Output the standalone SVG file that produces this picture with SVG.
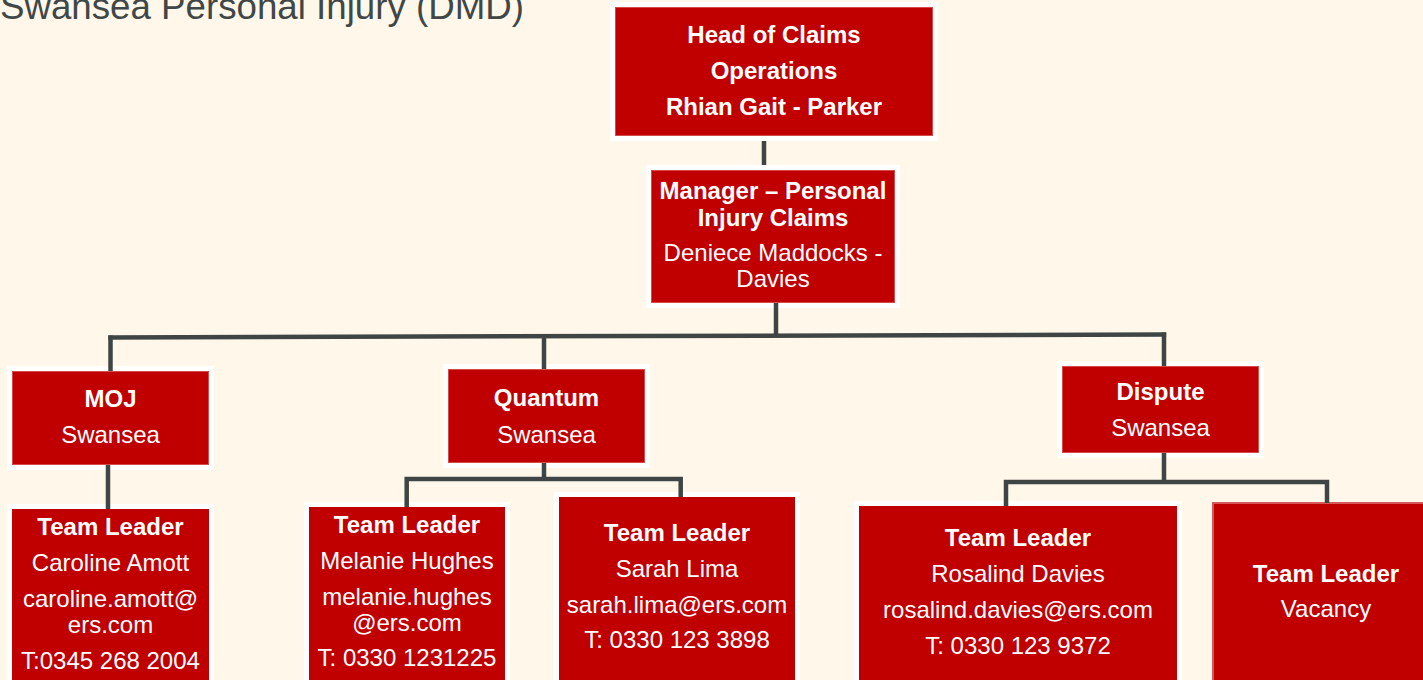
<svg xmlns="http://www.w3.org/2000/svg" width="1423" height="680" viewBox="0 0 1423 680">
<style>
.bg{fill:#fff8ea}
.box{fill:#c00000;stroke:#ffffff;stroke-width:10;paint-order:stroke}
.edge{fill:none;stroke:#d64a4a;stroke-width:1}
.vac{fill:#c00000;stroke:#d35a5a;stroke-width:2}
.b{font-family:"Liberation Sans",Arial,sans-serif;font-weight:bold;font-size:24px;fill:#ffffff;text-anchor:middle}
.r{font-family:"Liberation Sans",Arial,sans-serif;font-size:24px;fill:#ffffff;text-anchor:middle}
.title{font-family:"Liberation Sans",Arial,sans-serif;font-size:36.7px;fill:#414747}
.con{fill:none;stroke:#3f4545;stroke-width:4.5;stroke-linejoin:miter;stroke-linecap:butt}
</style>
<rect class="bg" x="0" y="0" width="1423" height="680"/>
<text class="title" x="0" y="19">Swansea Personal Injury (DMD)</text>

<g id="head">
<rect class="box" x="615" y="7" width="318" height="129"/>
<rect class="edge" x="615.5" y="7.5" width="317" height="128"/>
<text class="b" x="774" y="43">Head of Claims</text>
<text class="b" x="774" y="79">Operations</text>
<text class="b" x="774" y="115">Rhian Gait - Parker</text>
</g>

<g id="manager">
<rect class="box" x="651" y="170" width="244" height="133"/>
<rect class="edge" x="651.5" y="170.5" width="243" height="132"/>
<text class="b" x="773" y="199">Manager – Personal</text>
<text class="b" x="773" y="226">Injury Claims</text>
<text class="r" x="773" y="261">Deniece Maddocks -</text>
<text class="r" x="773" y="287">Davies</text>
</g>

<g id="moj">
<rect class="box" x="12" y="371" width="197" height="94"/>
<rect class="edge" x="12.5" y="371.5" width="196" height="93"/>
<text class="b" x="110.5" y="407">MOJ</text>
<text class="r" x="110.5" y="443">Swansea</text>
</g>

<g id="moj-tl">
<rect class="box" x="12" y="509" width="197" height="185"/>
<text class="b" x="110.5" y="535">Team Leader</text>
<text class="r" x="110.5" y="571">Caroline Amott</text>
<text class="r" x="110.5" y="607">caroline.amott@</text>
<text class="r" x="110.5" y="633">ers.com</text>
<text class="r" x="110.5" y="669">T:0345 268 2004</text>
</g>

<g id="quantum">
<rect class="box" x="448" y="369" width="197" height="94"/>
<rect class="edge" x="448.5" y="369.5" width="196" height="93"/>
<text class="b" x="546.5" y="406">Quantum</text>
<text class="r" x="546.5" y="443">Swansea</text>
</g>

<g id="quantum-tl1">
<rect class="box" x="309" y="507" width="196" height="187"/>
<text class="b" x="407" y="533">Team Leader</text>
<text class="r" x="407" y="569">Melanie Hughes</text>
<text class="r" x="407" y="605">melanie.hughes</text>
<text class="r" x="407" y="631">@ers.com</text>
<text class="r" x="407" y="666">T: 0330 1231225</text>
</g>

<g id="quantum-tl2">
<rect class="box" x="559" y="497" width="236" height="197"/>
<text class="b" x="677" y="541">Team Leader</text>
<text class="r" x="677" y="577">Sarah Lima</text>
<text class="r" x="677" y="613">sarah.lima@ers.com</text>
<text class="r" x="677" y="648">T: 0330 123 3898</text>
</g>

<g id="dispute">
<rect class="box" x="1062" y="366" width="197" height="87"/>
<rect class="edge" x="1062.5" y="366.5" width="196" height="86"/>
<text class="b" x="1160.5" y="400">Dispute</text>
<text class="r" x="1160.5" y="436">Swansea</text>
</g>

<g id="dispute-tl1">
<rect class="box" x="859" y="506" width="318" height="188"/>
<text class="b" x="1018" y="546">Team Leader</text>
<text class="r" x="1018" y="582">Rosalind Davies</text>
<text class="r" x="1018" y="618">rosalind.davies@ers.com</text>
<text class="r" x="1018" y="654">T: 0330 123 9372</text>
</g>

<g id="dispute-tl2">
<rect class="vac" x="1213" y="503" width="230" height="190"/>
<text class="b" x="1326" y="582">Team Leader</text>
<text class="r" x="1326" y="617">Vacancy</text>
</g>

<g id="connectors">
<line class="con" x1="764" y1="141" x2="764" y2="165"/>
<line class="con" x1="776" y1="303" x2="776" y2="336"/>
<line class="con" x1="108.3" y1="337.5" x2="1166.2" y2="334.5"/>
<line class="con" x1="110.5" y1="335.5" x2="110.5" y2="371"/>
<line class="con" x1="544" y1="334" x2="544" y2="369"/>
<line class="con" x1="1164" y1="332.5" x2="1164" y2="366"/>
<line class="con" x1="108" y1="465" x2="108" y2="509"/>
<line class="con" x1="544" y1="463" x2="544" y2="479"/>
<polyline class="con" points="406.7,507 406.7,479 680.7,479 680.7,497"/>
<line class="con" x1="1164" y1="453" x2="1164" y2="482"/>
<polyline class="con" points="1006,506 1006,482 1327,482 1327,503"/>
</g>
</svg>
